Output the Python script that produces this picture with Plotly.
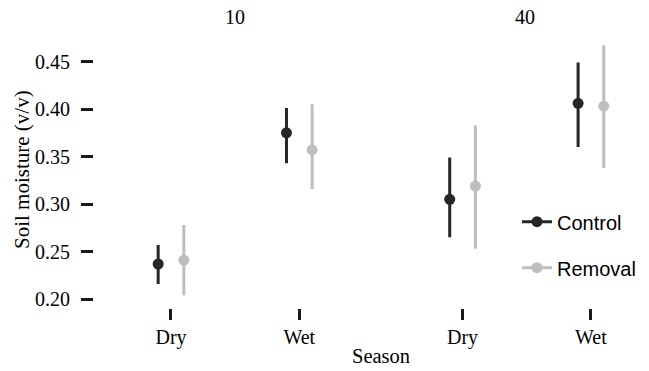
import plotly.graph_objects as go

# ---- data ----
seasons = ["Dry", "Wet"]
depths = ["10", "40"]
treatments = ["Control", "Removal"]
colors = {"Control": "#262626", "Removal": "#BEBEBE"}

control_mean = {"10": [0.237, 0.375], "40": [0.305, 0.406]}
control_lo = {"10": [0.216, 0.343], "40": [0.265, 0.360]}
control_hi = {"10": [0.257, 0.401], "40": [0.349, 0.449]}

removal_mean = {"10": [0.241, 0.357], "40": [0.319, 0.403]}
removal_lo = {"10": [0.204, 0.316], "40": [0.253, 0.338]}
removal_hi = {"10": [0.278, 0.405], "40": [0.383, 0.467]}

y_ticks = [0.20, 0.25, 0.30, 0.35, 0.40, 0.45]

means = {"Control": control_mean, "Removal": removal_mean}
los = {"Control": control_lo, "Removal": removal_lo}
his = {"Control": control_hi, "Removal": removal_hi}
dodge = {"Control": -0.1, "Removal": 0.1}

# ---- layout geometry ----
W, H = 649, 371
L, R, T, B = 94, 0, 33, 63
PW, PH = W - L - R, H - T - B


def px(x):
    return (x - L) / PW


def py(y):
    return (H - B - y) / PH


SERIF = "Liberation Serif"
SANS = "Liberation Sans"

fig = go.Figure()
axes = {"10": ("x", "y"), "40": ("x2", "y")}
for d in depths:
    xa, ya = axes[d]
    for t in treatments:
        m = means[t][d]
        lo = los[t][d]
        hi = his[t][d]
        xs = [i + 1 + dodge[t] for i in range(len(seasons))]
        fig.add_trace(go.Scatter(
            x=xs, y=m, mode="markers", xaxis=xa, yaxis=ya,
            marker=dict(color=colors[t], size=11),
            error_y=dict(type="data", symmetric=False,
                         array=[h - v for h, v in zip(hi, m)],
                         arrayminus=[v - l for v, l in zip(m, lo)],
                         color=colors[t], thickness=3, width=0),
            showlegend=False, name=t,
        ))

# legend entries
fig.add_trace(go.Scatter(x=[None], y=[None], mode="lines+markers", name="Control",
                         line=dict(color=colors["Control"], width=3),
                         marker=dict(color=colors["Control"], size=11), legend="legend"))
fig.add_trace(go.Scatter(x=[None], y=[None], mode="lines+markers", name="Removal",
                         line=dict(color=colors["Removal"], width=3),
                         marker=dict(color=colors["Removal"], size=11), legend="legend2"))

xcommon = dict(tickmode="array", tickvals=[1, 2], ticktext=seasons,
               showgrid=False, zeroline=False, showline=False,
               ticks="outside", ticklen=11, tickwidth=3, tickcolor="#1a1a1a",
               tickfont=dict(family=SERIF, size=20, color="black"),
               anchor="y", fixedrange=True)

legfont = dict(family=SANS, size=20, color="black")
fig.update_layout(
    width=W, height=H,
    margin=dict(l=L, r=R, t=T, b=B),
    paper_bgcolor="white", plot_bgcolor="white",
    xaxis=dict(domain=[0, px(376.3)], range=[0.4, 2.6], **xcommon),
    xaxis2=dict(domain=[px(385.5), 1], range=[0.4, 0.4 + (W - 385.5) / 128.4], **xcommon),
    yaxis=dict(range=[0.1907, 0.4800], tickmode="array", tickvals=y_ticks,
               ticktext=[f"{v:.2f}" for v in y_ticks],
               showgrid=False, zeroline=False, showline=False,
               ticks="outside", ticklen=12, tickwidth=3, tickcolor="#1a1a1a",
               ticklabelstandoff=7,
               tickfont=dict(family=SERIF, size=20, color="black"),
               anchor="x", fixedrange=True),
    legend=dict(x=px(517), y=py(221.7), xanchor="left", yanchor="middle",
                font=legfont, bgcolor="rgba(0,0,0,0)"),
    legend2=dict(x=px(517), y=py(267.7), xanchor="left", yanchor="middle",
                 font=legfont, bgcolor="rgba(0,0,0,0)"),
    showlegend=True,
)

annots = [
    dict(text="10", x=px(235), y=py(17), xref="paper", yref="paper",
         showarrow=False, xanchor="center", yanchor="middle",
         font=dict(family=SERIF, size=20, color="black")),
    dict(text="40", x=px(525), y=py(17), xref="paper", yref="paper",
         showarrow=False, xanchor="center", yanchor="middle",
         font=dict(family=SERIF, size=20, color="black")),
    dict(text="Season", x=px(381), y=py(356), xref="paper", yref="paper",
         showarrow=False, xanchor="center", yanchor="middle",
         font=dict(family=SERIF, size=20.5, color="black")),
    dict(text="Soil moisture (v/v)", x=px(22), y=py(170), xref="paper", yref="paper",
         showarrow=False, xanchor="center", yanchor="middle", textangle=-90,
         font=dict(family=SERIF, size=21, color="black")),
]
fig.update_layout(annotations=annots)

fig.write_html("out.html")
